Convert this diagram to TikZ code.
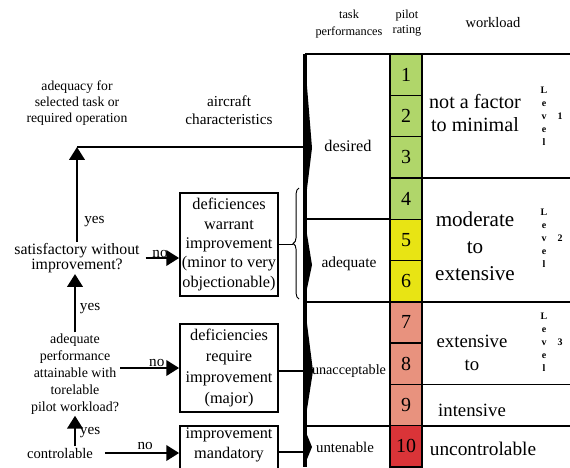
\documentclass[tikz,border=0pt]{standalone}
\usepackage{fontspec}
\setmainfont{Liberation Serif}
\usetikzlibrary{arrows.meta, decorations.pathreplacing}
\definecolor{rgreen}{RGB}{176,214,106}
\definecolor{ryellow}{RGB}{232,228,20}
\definecolor{rsalmon}{RGB}{232,146,126}
\definecolor{rred}{RGB}{218,52,56}

\begin{document}
\begin{tikzpicture}[x=0.03cm, y=-0.03cm,
        box/.style={rectangle, draw, line width=1.4pt, align=center, inner sep=1.5pt, minimum width=2.94cm, font=\fontsize{13.9}{16.5}\selectfont},
        arrow/.style={-{Triangle[length=11pt, width=13pt]}, line width=2.5pt},
        link/.style={line width=1.6pt},
        tbl/.style={line width=1.4pt},
        cell/.style={rectangle, draw, line width=1.2pt, minimum width=0.96cm, minimum height=1.239cm, inner sep=0pt, font=\fontsize{17}{20}\selectfont},
        txt/.style={align=center, inner sep=1pt},
        answer/.style={inner sep=1pt, font=\fontsize{13}{15}\selectfont},
        lvl/.style={align=center, inner sep=0pt, font=\fontsize{8.5}{11.1}\selectfont\bfseries},
        taper/.style={fill=black}
    ]
        \useasboundingbox (0,0) rectangle (570,467);

        % Table frame
        \draw[tbl] (305,54) -- (570,54);
        \draw[tbl] (305,219.2) -- (390,219.2);
        \draw[tbl] (305,301.8) -- (570,301.8);
        \draw[tbl] (305,425.7) -- (570,425.7);
        \draw[tbl] (422,177.9) -- (570,177.9);
        \draw[tbl] (422,384.4) -- (570,384.4);
        \draw[line width=2.6pt] (305,54) -- (305,467);
        \fill[taper] (305,62) -- (312,148) -- (305,205) -- cycle;
        \fill[taper] (305,222) -- (312,265) -- (305,298) -- cycle;
        \fill[taper] (305,308) -- (313,371) -- (305,422) -- cycle;
        \fill[taper] (305,430) -- (312,447) -- (305,464) -- cycle;

        % Rating cells
        \foreach \i/\col in {1/rgreen, 2/rgreen, 3/rgreen, 4/rgreen, 5/ryellow, 6/ryellow, 7/rsalmon, 8/rsalmon, 9/rsalmon, 10/rred} {
            \node (r\i) [cell, fill=\col] at (406,{54+41.3*(\i-0.5)}) {\i};
        }

        % Headers
        \node (taskhdr) [txt, font=\fontsize{10.5}{13.8}\selectfont] at (349,24) {task\\performances};
        \node (pilothdr) [txt, font=\fontsize{10.5}{13}\selectfont] at (407,23) {pilot\\rating};
        \node (workhdr) [txt, font=\fontsize{12.4}{14}\selectfont] at (493,23) {workload};

        % Task performances
        \node (desired) [txt, font=\fontsize{13.9}{16}\selectfont] at (348,146) {desired};
        \node (adequate) [txt, font=\fontsize{13.2}{16}\selectfont] at (349,264) {adequate};
        \node (unaccept) [txt, font=\fontsize{12.1}{16}\selectfont] at (349,371) {unacceptable};
        \node (untenable) [txt, font=\fontsize{12.7}{16}\selectfont] at (345,447) {untenable};

        % Workload
        \node (wl1) [txt, font=\fontsize{17.2}{19.6}\selectfont] at (475,113) {not a factor\\to minimal};
        \node (wl2) [txt, font=\fontsize{18}{23}\selectfont] at (475,246) {moderate\\to\\extensive};
        \node (wl3) [txt, font=\fontsize{16}{19.6}\selectfont] at (472,353) {extensive\\to};
        \node (wl4) [txt, font=\fontsize{16}{19}\selectfont] at (472,410) {intensive};
        \node (wl5) [txt, font=\fontsize{16.5}{19}\selectfont] at (483,449) {uncontrolable};

        % Levels
        \node (lvl1) [lvl] at (544,116) {L\\e\\v\\e\\l};
        \node (lvl1num) [lvl] at (560,116) {1};
        \node (lvl2) [lvl] at (544,238) {L\\e\\v\\e\\l};
        \node (lvl2num) [lvl] at (560,238) {2};
        \node (lvl3) [lvl] at (544,342) {L\\e\\v\\e\\l};
        \node (lvl3num) [lvl] at (560,342) {3};

        % Questions
        \node (adequacy) [txt, font=\fontsize{11.7}{13.9}\selectfont] at (77,103) {adequacy for\\selected task or\\required operation};
        \node (aircraft) [txt, font=\fontsize{13}{15}\selectfont] at (229,110) {aircraft\\characteristics};
        \node (satisf) [txt, font=\fontsize{13.5}{12.5}\selectfont] at (77,258) {satisfactory without\\improvement?};
        \node (adeqperf) [txt, font=\fontsize{11.9}{14.5}\selectfont] at (75,374) {adequate\\performance\\attainable with\\torelable\\pilot workload?};
        \node (control) [txt, font=\fontsize{12.5}{15}\selectfont] at (60,453) {controlable};

        % Boxes
        \node (warrant) [box, minimum height=3.09cm] at (229,244.5) {deficiences\\warrant\\improvement\\(minor to very\\objectionable)};
        \node (major) [box, minimum height=2.64cm, font=\fontsize{13.9}{17.7}\selectfont] at (229,368) {deficiencies\\require\\improvement\\(major)};
        \node (mandatory) [box, anchor=north, text depth=1.1cm, font=\fontsize{13.9}{17}\selectfont] at (229,425) {improvement\\mandatory};

        % Link points
        \coordinate (corner) at (77,147);
        \coordinate (lnk1) at (305,147);
        \coordinate (bracetip) at (293,244.5);
        \coordinate (lnk2) at (305,371);
        \coordinate (lnk3) at (305,452);

        % Arrows
        \draw[arrow] (satisf.north) -- node (yes1) [answer, right=4pt, pos=0.22] {yes} (corner);
        \draw[link] (corner) -- (lnk1);
        \draw[arrow] (adeqperf.north) -- node (yes2) [answer, right=2pt, pos=0.4] {yes} (adeqperf.north |- satisf.south);
        \draw[arrow] (adeqperf.south |- control.north) -- node (yes3) [answer, right=2pt, pos=0.45] {yes} (adeqperf.south);
        \draw[arrow, shorten <=4pt] (satisf.east) -- node (no1) [answer, above=-2pt, pos=0.5] {no} (satisf.east -| warrant.west);
        \draw[arrow] (major.west -| adeqperf.east) -- node (no2) [answer, above=-1pt, pos=0.62] {no} (major.west);
        \draw[arrow, shorten <=9pt] (control.east) -- node (no3) [answer, above=1pt, pos=0.6] {no} (control.east -| mandatory.west);

        % Links to the table
        \draw[link] (warrant.east) -- (bracetip);
        \draw[decorate, decoration={brace, amplitude=5pt}, line width=0.8pt] (299,299) -- (299,188);
        \draw[link] (major.east |- lnk2) -- (lnk2);
        \draw[link] (mandatory.east |- lnk3) -- (lnk3);
    \end{tikzpicture}
\end{document}
